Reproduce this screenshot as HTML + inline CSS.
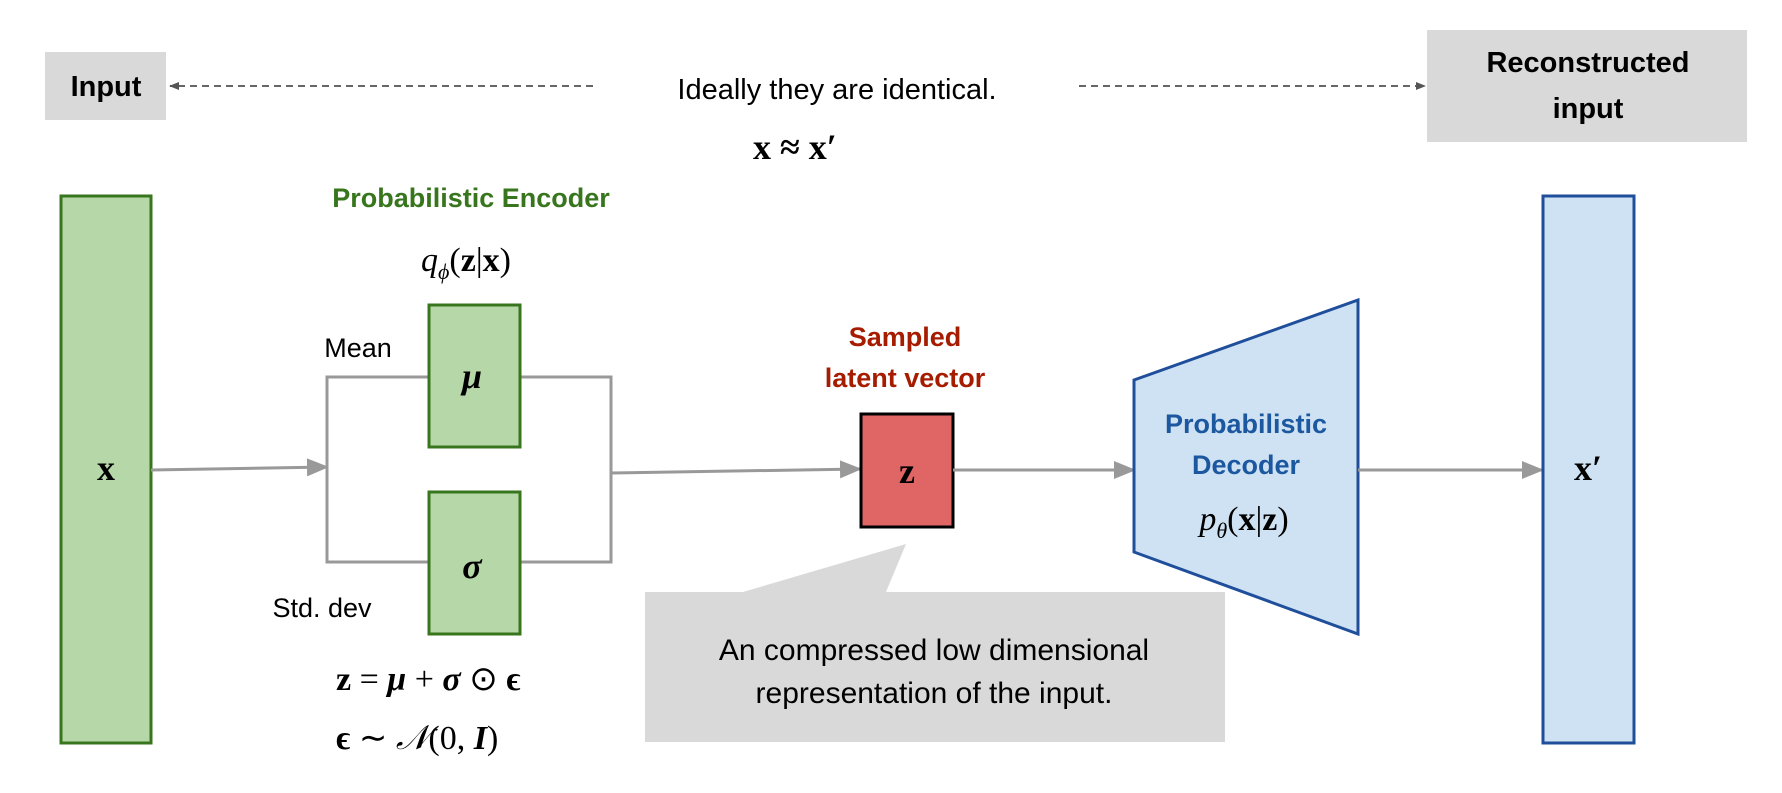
<!DOCTYPE html>
<html><head><meta charset="utf-8"><style>
body{margin:0;background:#fff}
svg{display:block}
.s{font-family:"Liberation Sans",sans-serif}
.m{font-family:"Liberation Serif",serif}
</style></head><body>
<svg width="1782" height="793" viewBox="0 0 1782 793" xmlns="http://www.w3.org/2000/svg">
<defs>
<marker id="ad" markerWidth="10" markerHeight="10" refX="9" refY="5" orient="auto" markerUnits="userSpaceOnUse" viewBox="0 0 10 10"><path d="M0,1 L10,5 L0,9z" fill="#555"/></marker>
<marker id="ab" markerWidth="22" markerHeight="22" refX="20" refY="11" orient="auto" markerUnits="userSpaceOnUse" viewBox="0 0 22 22"><path d="M0,2 L22,11 L0,20z" fill="#999"/></marker>
</defs>
<rect x="45" y="52" width="121" height="68" fill="#d9d9d9"/>
<text x="106" y="96" class="s" font-size="29" font-weight="bold" text-anchor="middle">Input</text>
<line x1="593" y1="86" x2="170" y2="86" stroke="#666" stroke-width="2" stroke-dasharray="7,5" marker-end="url(#ad)"/>
<text x="837" y="99" class="s" font-size="29" text-anchor="middle">Ideally they are identical.</text>
<text x="795" y="159" class="m" font-size="36" font-weight="bold" text-anchor="middle">x ≈ x′</text>
<line x1="1079" y1="86" x2="1425" y2="86" stroke="#666" stroke-width="2" stroke-dasharray="7,5" marker-end="url(#ad)"/>
<rect x="1427" y="30" width="320" height="112" fill="#d9d9d9"/>
<text x="1588" y="72" class="s" font-size="29" font-weight="bold" text-anchor="middle">Reconstructed</text>
<text x="1588" y="118" class="s" font-size="29" font-weight="bold" text-anchor="middle">input</text>
<rect x="61" y="196" width="90" height="547" fill="#b6d7a8" stroke="#38761d" stroke-width="3"/>
<text x="106" y="480" class="m" font-size="36" font-weight="bold" text-anchor="middle">x</text>
<text x="471" y="207" class="s" font-size="27" font-weight="bold" fill="#38761d" text-anchor="middle">Probabilistic Encoder</text>
<text x="466" y="271" class="m" font-size="34" font-style="italic" text-anchor="middle">q<tspan font-size="22" dy="8">ϕ</tspan><tspan dy="-8" font-style="normal">(</tspan><tspan font-style="normal" font-weight="bold">z</tspan><tspan font-style="normal">|</tspan><tspan font-style="normal" font-weight="bold">x</tspan><tspan font-style="normal">)</tspan></text>
<polyline points="428,377 327,377 327,562 428,562" fill="none" stroke="#999" stroke-width="3"/>
<polyline points="520,377 611,377 611,562 520,562" fill="none" stroke="#999" stroke-width="3"/>
<line x1="151" y1="470" x2="327" y2="467" stroke="#999" stroke-width="3" marker-end="url(#ab)"/>
<line x1="611" y1="473" x2="860" y2="469" stroke="#999" stroke-width="3" marker-end="url(#ab)"/>
<rect x="429" y="305" width="91" height="142" fill="#b6d7a8" stroke="#38761d" stroke-width="3"/>
<text x="472" y="388" class="m" font-size="36" font-weight="bold" font-style="italic" text-anchor="middle">μ</text>
<rect x="429" y="492" width="91" height="142" fill="#b6d7a8" stroke="#38761d" stroke-width="3"/>
<text x="472" y="578" class="m" font-size="36" font-weight="bold" font-style="italic" text-anchor="middle">σ</text>
<text x="358" y="357" class="s" font-size="27" text-anchor="middle">Mean</text>
<text x="322" y="617" class="s" font-size="27" text-anchor="middle">Std. dev</text>
<text x="336" y="690" class="m" font-size="34"><tspan font-weight="bold">z</tspan> = <tspan font-weight="bold" font-style="italic">μ</tspan> + <tspan font-weight="bold" font-style="italic">σ</tspan> ⊙ <tspan font-weight="bold">ϵ</tspan></text>
<text x="336" y="749" class="m" font-size="34"><tspan font-weight="bold">ϵ</tspan> ∼ <tspan font-style="italic">𝒩</tspan>(0, <tspan font-weight="bold" font-style="italic">I</tspan>)</text>
<text x="905" y="346" class="s" font-size="27" font-weight="bold" fill="#a61c00" text-anchor="middle">Sampled</text>
<text x="905" y="387" class="s" font-size="27" font-weight="bold" fill="#a61c00" text-anchor="middle">latent vector</text>
<rect x="861" y="414" width="92" height="113" fill="#e06666" stroke="#000" stroke-width="3"/>
<text x="907" y="483" class="m" font-size="36" font-weight="bold" text-anchor="middle">z</text>
<line x1="953" y1="470" x2="1134" y2="470" stroke="#999" stroke-width="3" marker-end="url(#ab)"/>
<path d="M1134,380 L1358,300 L1358,634 L1134,552 Z" fill="#cfe2f3" stroke="#1f4e9b" stroke-width="3"/>
<text x="1246" y="433" class="s" font-size="27" font-weight="bold" fill="#1c58a0" text-anchor="middle">Probabilistic</text>
<text x="1246" y="474" class="s" font-size="27" font-weight="bold" fill="#1c58a0" text-anchor="middle">Decoder</text>
<text x="1244" y="530" class="m" font-size="34" font-style="italic" text-anchor="middle">p<tspan font-size="22" dy="8">θ</tspan><tspan dy="-8" font-style="normal">(</tspan><tspan font-style="normal" font-weight="bold">x</tspan><tspan font-style="normal">|</tspan><tspan font-style="normal" font-weight="bold">z</tspan><tspan font-style="normal">)</tspan></text>
<path d="M645,592 L743,592 L906,544 L886,592 L1225,592 L1225,742 L645,742 Z" fill="#d9d9d9"/>
<text x="934" y="660" class="s" font-size="30" text-anchor="middle">An compressed low dimensional</text>
<text x="934" y="703" class="s" font-size="30" text-anchor="middle">representation of the input.</text>
<line x1="1358" y1="470" x2="1542" y2="470" stroke="#999" stroke-width="3" marker-end="url(#ab)"/>
<rect x="1543" y="196" width="91" height="547" fill="#cfe2f3" stroke="#1f4e9b" stroke-width="3"/>
<text x="1588" y="480" class="m" font-size="36" font-weight="bold" text-anchor="middle">x′</text>
</svg>
</body></html>
